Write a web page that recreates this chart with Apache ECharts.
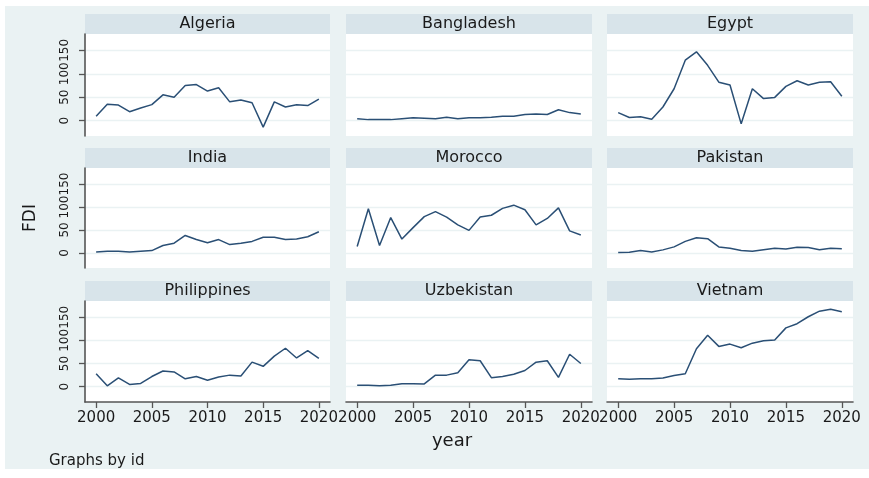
<!DOCTYPE html>
<html><head><meta charset="utf-8">
<script src="https://cdn.jsdelivr.net/npm/echarts@6/dist/echarts.min.js"></script>
<style>html,body{margin:0;padding:0;background:#fff}#c{width:869px;height:478px}</style>
</head><body><div id="c"></div>
<script>
const years = [2000,2001,2002,2003,2004,2005,2006,2007,2008,2009,2010,2011,2012,2013,2014,2015,2016,2017,2018,2019,2020];
const countries = ['Algeria','Bangladesh','Egypt','India','Morocco','Pakistan','Philippines','Uzbekistan','Vietnam'];
const algeria     = [9,35,33,19,27,34,55,50,75,77,63,70,40,44,38,-14,40,29,34,32,46];
const bangladesh  = [4,2,2,2,4,6,5,4,7,4,6,6,7,9,9,13,14,13,23,17,14];
const egypt       = [17,6.5,8,3,29,68,129,147,118,82,76,-7,68,47,49.5,73,85,76,82,83,52];
const india       = [2,3.5,3.5,2,3.5,5,16,21,38,29,22,29,18,21,25,34,34,29,30,35,46];
const morocco     = [14,96,16,77,30,55,79,90,78,61,49,78,82,97,104,94,61,75,98,48,39];
const pakistan    = [1,1.5,5,2,6.5,13,25,33,31,13,10,5,3.5,7,10,8.5,12,11.5,7,10,9];
const philippines = [28,2,19,5,7,22,34,32,17,22,14,21,25,23,53,44,66,83,62,78,61];
const uzbekistan  = [3,3,2,3,6.5,6.5,6,25,25,30,58,56,19.5,22,27,35,53,56,20,70,50];
const vietnam     = [17,16,17,17,19,24,28,82,111,87,92,84,94,99,101,127,136,151,163,167,162];
const yTicks = [0,50,100,150];
const xTicks = [2000,2005,2010,2015,2020];
const yTitle = 'FDI';
const xTitle = 'year';
const note = 'Graphs by id';

const seriesValues = [algeria,bangladesh,egypt,india,morocco,pakistan,philippines,uzbekistan,vietnam];

const FONT = 'DejaVu Sans';
const colLeft = [85, 346, 607];
const colWidth = [245, 246, 246];
const rowTop = [34, 168, 301];
const rowHeight = [102, 100, 101];
const stripH = 20;
const axisColor = '#555555';

const grids = [], xAxes = [], yAxes = [], series = [], graphics = [];
graphics.push({type:'rect', z:-10, silent:true, shape:{x:5,y:6,width:864,height:463}, style:{fill:'#eaf2f3'}});

countries.forEach((name, i) => {
  const r = Math.floor(i/3), c = i%3;
  grids.push({left: colLeft[c], top: rowTop[r], width: colWidth[c], height: rowHeight[r],
    show: true, backgroundColor: '#ffffff', borderWidth: 0, containLabel: false});
  graphics.push({type:'rect', silent:true, shape:{x:colLeft[c], y:rowTop[r]-stripH, width:colWidth[c], height:stripH},
    style:{fill:'#d8e4ea'}});
  graphics.push({type:'text', silent:true, x: colLeft[c]+colWidth[c]/2, y: rowTop[r]-stripH/2,
    style:{text:name, fill:'#1a1a1a', font:'16px "'+FONT+'"', textAlign:'center', textVerticalAlign:'middle'}});
  const bottom = r === 2;
  xAxes.push({type:'value', gridIndex:i, min:1999, max:2021,
    axisLine:{show:bottom, onZero:false, lineStyle:{color:axisColor, width:1.6}},
    axisTick:{show:bottom, length:6, customValues:xTicks, lineStyle:{color:axisColor, width:1.3}},
    axisLabel:{show:bottom, customValues:xTicks, formatter: v => String(v), fontFamily:FONT, fontSize:15, color:'#1a1a1a', margin:9,
      hideOverlap:false, showMinLabel:true, showMaxLabel:true},
    splitLine:{show:false}});
  const left = c === 0;
  yAxes.push({type:'value', gridIndex:i, min:-33, max:185,
    axisLine:{show:left, lineStyle:{color:axisColor, width:1.6}},
    axisTick:{show:left, length:6, customValues:yTicks, lineStyle:{color:axisColor, width:1.3}},
    axisLabel:{show:left, customValues:yTicks, rotate:90, fontFamily:FONT, fontSize:12, color:'#1a1a1a', margin:14,
      hideOverlap:false, showMinLabel:true, showMaxLabel:true},
    splitLine:{show:true, lineStyle:{color:'#eaf2f3', width:1.3}},
    name: (i===3 ? yTitle : ''), nameLocation:'middle', nameRotate:90, nameGap:46,
    nameTextStyle:{fontFamily:FONT, fontSize:17, color:'#1a1a1a'}});
  series.push({type:'line', xAxisIndex:i, yAxisIndex:i, showSymbol:false, symbol:'none',
    lineStyle:{color:'#2a4f75', width:1.5}, data: years.map((y,k)=>[y, seriesValues[i][k]])});
});

graphics.push({type:'text', silent:true, x:452, y:441, style:{text:xTitle, fill:'#1a1a1a', font:'18px "'+FONT+'"', textAlign:'center', textVerticalAlign:'middle'}});
graphics.push({type:'text', silent:true, x:49, y:461, style:{text:note, fill:'#1a1a1a', font:'15px "'+FONT+'"', textAlign:'left', textVerticalAlign:'middle'}});

const chart = echarts.init(document.getElementById('c'), null, {renderer:'canvas'});
chart.setOption({animation:false, backgroundColor:'#ffffff', grid:grids, xAxis:xAxes, yAxis:yAxes, series:series, graphic:graphics});
</script></body></html>
